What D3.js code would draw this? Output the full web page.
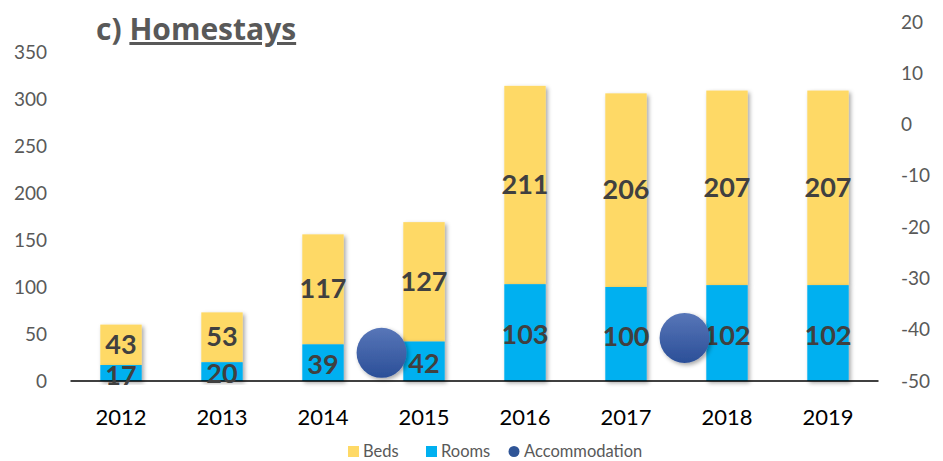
<!DOCTYPE html>
<html>
<head>
<meta charset="utf-8">
<script src="https://cdn.jsdelivr.net/npm/d3@7"></script>
<style>
  body { margin: 0; background: #fff; }
  svg { display: block; font-family: Lato, "Open Sans", sans-serif; }
</style>
</head>
<body>
<svg id="chart" width="943" height="461"></svg>
<script>
// ====== Data ======
const years = ["2012", "2013", "2014", "2015", "2016", "2017", "2018", "2019"];
const rooms = [17, 20, 39, 42, 103, 100, 102, 102];
const beds = [43, 53, 117, 127, 211, 206, 207, 207];

// Accommodation points (secondary axes, x in category units)
const accomX = [3.08, 6.08];
const accomY = [-44.5, -41.6];

const leftTicks = [0, 50, 100, 150, 200, 250, 300, 350];
const rightTicks = [-50, -40, -30, -20, -10, 0, 10, 20];

// ====== Layout ======
const svg = d3.select("#chart");
const plot = { left: 70.5, right: 878.5, top: 52, bottom: 381 };

const x = d3.scaleBand().domain(years).range([plot.left, plot.right]).paddingInner(0.59).paddingOuter(0.295);
const xLin = d3.scaleLinear().domain([0, 8]).range([plot.left, plot.right]);
const y = d3.scaleLinear().domain([0, 350]).range([plot.bottom, plot.bottom - 329]);
const y2 = d3.scaleLinear().domain([-50, 20]).range([plot.bottom, 22]);

// shadows / gradient
const defs = svg.append("defs");
const sh = defs.append("filter").attr("id", "shadow").attr("x", "-20%").attr("y", "-10%").attr("width", "150%").attr("height", "130%");
sh.append("feDropShadow").attr("dx", 2).attr("dy", 2).attr("stdDeviation", 2).attr("flood-color", "#000").attr("flood-opacity", 0.35);
const grad = defs.append("linearGradient").attr("id", "dotGrad").attr("x1", 0).attr("y1", 0).attr("x2", 0).attr("y2", 1);
grad.append("stop").attr("offset", "0%").attr("stop-color", "#5876b8");
grad.append("stop").attr("offset", "100%").attr("stop-color", "#2b4f98");

// ====== Title ======
const title = svg.append("text").attr("x", 96).attr("y", 40)
  .attr("font-size", 30).attr("font-weight", "bold").attr("fill", "#595959")
  .attr("font-family", "'Open Sans', sans-serif");
title.append("tspan").text("c) ");
title.append("tspan").attr("text-decoration", "underline").text("Homestays");

// ====== Axes ======
svg.append("g").attr("transform", `translate(47,0)`)
  .call(d3.axisLeft(y).tickValues(leftTicks).tickSize(0).tickPadding(0))
  .call(g => g.select(".domain").remove())
  .call(g => g.selectAll("text").attr("font-size", 19).attr("fill", "#595959").attr("font-family", "Lato"));

svg.append("g").attr("transform", `translate(901,0)`)
  .call(d3.axisRight(y2).tickValues(rightTicks).tickSize(0).tickPadding(0).tickFormat(d => String(d)))
  .call(g => g.select(".domain").remove())
  .call(g => g.selectAll("text").attr("font-size", 19).attr("fill", "#595959").attr("font-family", "Lato"));

svg.append("g").attr("transform", `translate(0,417)`)
  .call(d3.axisBottom(x).tickSize(0).tickPadding(0))
  .call(g => g.select(".domain").remove())
  .call(g => g.selectAll("text").attr("font-size", 22).attr("fill", "#000").attr("font-family", "Lato").attr("dy", "0.35em"));

// ====== Bars ======
const data = years.map((yr, i) => ({ yr, rooms: rooms[i], beds: beds[i] }));
const bars = svg.append("g");

bars.selectAll("rect.beds").data(data).join("rect")
  .attr("class", "beds")
  .attr("x", d => x(d.yr)).attr("width", x.bandwidth())
  .attr("y", d => y(d.rooms + d.beds))
  .attr("height", d => y(d.rooms) - y(d.rooms + d.beds))
  .attr("fill", "#FED966").attr("filter", "url(#shadow)");

bars.selectAll("rect.rooms").data(data).join("rect")
  .attr("class", "rooms")
  .attr("x", d => x(d.yr)).attr("width", x.bandwidth())
  .attr("y", d => y(d.rooms))
  .attr("height", d => y(0) - y(d.rooms))
  .attr("fill", "#00B0F0").attr("filter", "url(#shadow)");

// baseline
svg.append("line").attr("x1", plot.left).attr("x2", plot.right)
  .attr("y1", plot.bottom).attr("y2", plot.bottom)
  .attr("stroke", "#000").attr("stroke-width", 1.5);

// labels
const lab = svg.append("g").attr("font-size", 27).attr("font-weight", "bold")
  .attr("fill", "#404040").attr("text-anchor", "middle");
lab.selectAll("text.b").data(data).join("text")
  .attr("x", d => x(d.yr) + x.bandwidth() / 2)
  .attr("y", d => y(d.rooms + d.beds / 2) - 1).attr("dy", "0.36em")
  .text(d => d.beds);
lab.selectAll("text.r").data(data).join("text")
  .attr("x", d => x(d.yr) + x.bandwidth() / 2)
  .attr("y", d => y(d.rooms / 2) + 2).attr("dy", "0.36em")
  .text(d => d.rooms);

// ====== Accommodation ======
svg.append("g").selectAll("circle").data(accomX.map((v, i) => [v, accomY[i]])).join("circle")
  .attr("cx", d => xLin(d[0])).attr("cy", d => y2(d[1])).attr("r", 25)
  .attr("fill", "url(#dotGrad)").attr("filter", "url(#shadow)");

// ====== Legend ======
const leg = svg.append("g").attr("font-size", 16.5).attr("fill", "#595959");
leg.append("rect").attr("x", 348).attr("y", 446).attr("width", 11).attr("height", 11).attr("fill", "#FED966");
leg.append("text").attr("x", 363).attr("y", 457).text("Beds");
leg.append("rect").attr("x", 426).attr("y", 446).attr("width", 11).attr("height", 11).attr("fill", "#00B0F0");
leg.append("text").attr("x", 441).attr("y", 457).text("Rooms");
leg.append("circle").attr("cx", 514).attr("cy", 451.5).attr("r", 5.5).attr("fill", "#2f5597");
leg.append("text").attr("x", 524).attr("y", 457).text("Accommodation");
</script>
</body>
</html>
